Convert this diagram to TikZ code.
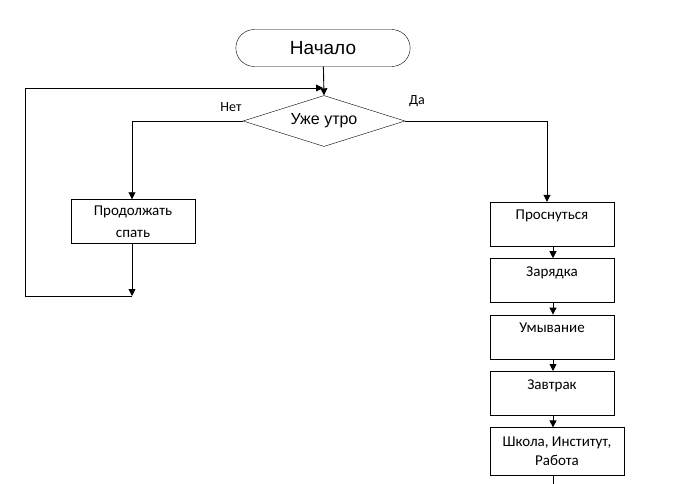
\documentclass[tikz,border=0pt]{standalone}
\usepackage{fontspec}
\setmainfont{Carlito}
\newfontfamily\arialfont{Liberation Sans}
\usetikzlibrary{shapes.geometric, shapes.misc, arrows.meta, positioning, calc}

\begin{document}
\begin{tikzpicture}[
        x=1pt, y=-1pt,
        node distance=12pt,
        terminal/.style={draw, rounded rectangle, minimum width=181pt, minimum height=37pt, font=\arialfont\fontsize{19}{22}\selectfont},
        decision/.style={draw, diamond, aspect=3.2, inner sep=0pt, minimum width=162pt, minimum height=51pt, font=\arialfont\fontsize{16}{19}\selectfont},
        action/.style={draw, align=center, minimum width=124pt, minimum height=44pt, inner sep=2pt, font=\fontsize{15}{18}\selectfont},
        answer/.style={font=\fontsize{14}{17}\selectfont},
        arrow/.style={-{Triangle[length=7pt, width=7pt]}, line width=0.9pt},
        line/.style={line width=0.9pt}
    ]
        \useasboundingbox (0,0) rectangle (678,484);

        % Nodes
        \node[terminal] (start) at (323,48) {Начало};
        \node[decision] (cond) at (324,121) {Уже утро};
        \node[answer] (no) at (231,107) {Нет};
        \node[answer] (yes) at (417,101) {Да};
        \node[action, font=\fontsize{15}{22}\selectfont] (sleep) at (133,221.5) {Продолжать\\спать};
        \node[action] (wake) at (552,224) {Проснуться\\~};
        \node[action, below=12pt of wake] (exercise) {Зарядка\\~};
        \node[action, below=12pt of exercise] (wash) {Умывание\\~};
        \node[action, below=12pt of wash] (breakfast) {Завтрак\\~};
        \node[action, minimum width=134pt, minimum height=48pt, below=12pt of breakfast, xshift=5pt, font=\fontsize{15}{19}\selectfont] (work) {Школа, Институт,\\Работа};

        % Coordinates
        \coordinate (join) at (323,88);
        \coordinate (noturn) at (132,121);
        \coordinate (yesturn) at (547,121);
        \coordinate (loopbot) at (132,296);
        \coordinate (loopleft) at (25,296);
        \coordinate (exit) at (553,484);

        % Lines
        \draw[arrow] (start) -- (cond.north);
        \draw[line] (cond.west) -- (noturn);
        \draw[arrow] (noturn) -- (sleep.north -| noturn);
        \draw[arrow] (sleep.south -| noturn) -- (loopbot);
        \draw[arrow] (loopbot) -- (loopleft) -- (loopleft |- join) -- (join);
        \draw[line] (cond.east) -- (yesturn);
        \draw[arrow] (yesturn) -- (yesturn |- wake.north);

        % Steps
        \draw[arrow] (wake.south -| exit) -- (exercise.north -| exit);
        \draw[arrow] (exercise.south -| exit) -- (wash.north -| exit);
        \draw[arrow] (wash.south -| exit) -- (breakfast.north -| exit);
        \draw[arrow] (breakfast.south -| exit) -- (work.north -| exit);
        \draw[line] (work.south -| exit) -- (exit);
    \end{tikzpicture}
\end{document}
